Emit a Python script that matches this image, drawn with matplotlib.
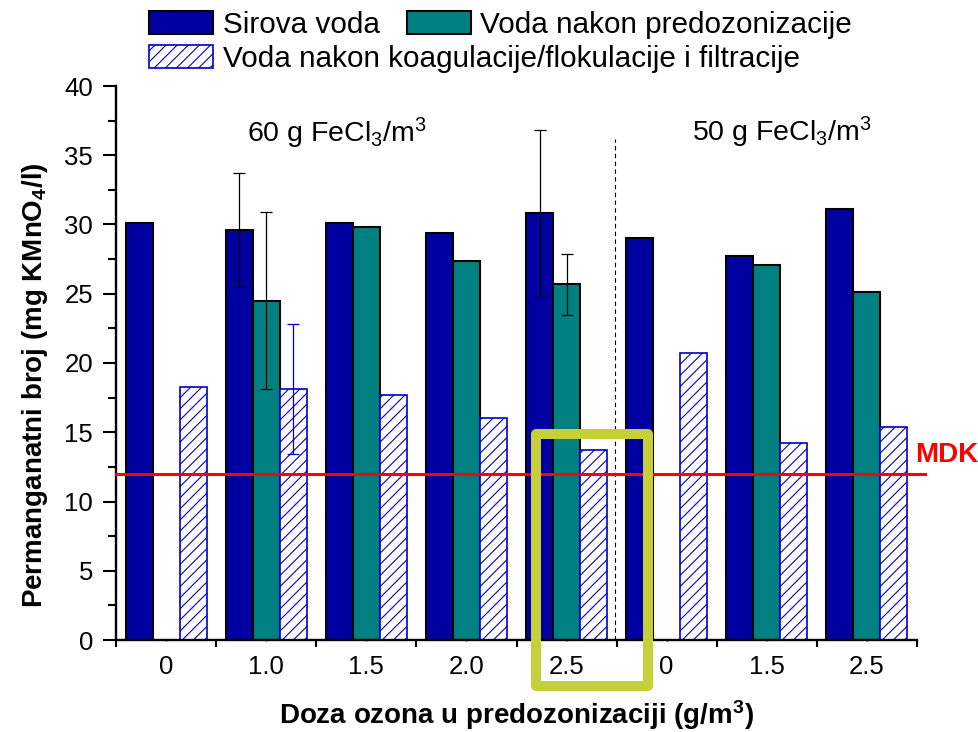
import numpy as np
import matplotlib.pyplot as plt
from matplotlib.patches import Patch, Rectangle

plt.rcParams['font.family'] = ['Liberation Sans', 'DejaVu Sans']
plt.rcParams['mathtext.default'] = 'regular'
plt.rcParams['hatch.linewidth'] = 0.8

# podaci (permanganatni broj, mg KMnO4/l)
doze = ['0', '1.0', '1.5', '2.0', '2.5', '0', '1.5', '2.5']
sirova = np.array([30.1, 29.6, 30.1, 29.4, 30.8, 29.0, 27.7, 31.1])
predoz = np.array([np.nan, 24.5, 29.8, 27.4, 25.7, np.nan, 27.1, 25.1])
filtr = np.array([18.3, 18.1, 17.7, 16.0, 13.7, 20.7, 14.2, 15.4])
sirova_err = np.array([0, 4.1, 0, 0, 6.0, 0, 0, 0])
predoz_err = np.array([0, 6.4, 0, 0, 2.2, 0, 0, 0])
filtr_err = np.array([0, 4.7, 0, 0, 0, 0, 0, 0])
mdk = 12

c_blue = '#0000A0'
c_teal = '#008080'
c_hatch = '#0000C8'

fig = plt.figure(figsize=(9.79, 7.32), dpi=100)
ax = fig.add_axes([116/979, 1 - 640/732, 801/979, 554/732])

x = np.arange(len(doze))
w = 0.27

ax.bar(x - w, sirova, w, color=c_blue, edgecolor='black', lw=1.5, zorder=2)
m = ~np.isnan(predoz)
ax.bar(x[m], predoz[m], w, color=c_teal, edgecolor='black', lw=1.5, zorder=2)
ax.bar(x + w, filtr, w, facecolor='white', edgecolor=c_hatch, hatch='///', lw=1.2, zorder=2)

# error bars only where they exist
for xs, ys, es, col in [(x - w, sirova, sirova_err, 'black'),
                        (x, predoz, predoz_err, 'black'),
                        (x + w, filtr, filtr_err, c_hatch)]:
    e = es > 0
    ax.errorbar(xs[e], ys[e], yerr=es[e], fmt='none', ecolor=col,
                elinewidth=0.9, capsize=4.3, capthick=0.9, zorder=3)

# MDK
ax.plot([-0.5, 7.58], [mdk, mdk], color='red', lw=2.2, zorder=4, clip_on=False)
ax.text(7.48, 13.36, 'MDK', color='red', fontsize=20, fontweight='bold',
        ha='left', va='center', clip_on=False)

# separator between the two coagulant doses
ax.plot([4.485, 4.485], [0, 36.2], color='black', lw=0.8, ls=(0, (4, 3)), zorder=1)

ax.text(0.809, 35.9, r'60 g FeCl$_3$/m$^3$', fontsize=20.5, ha='left', va='baseline')
ax.text(5.254, 36.0, r'50 g FeCl$_3$/m$^3$', fontsize=20.5, ha='left', va='baseline')

# highlight box
ax.add_patch(Rectangle((3.693, -3.3), 4.817 - 3.693, 14.85 + 3.3, fill=False,
                       edgecolor='#C4CF3A', lw=7.2, joinstyle='round',
                       clip_on=False, zorder=6))

ax.set_xlim(-0.5, 7.5)
ax.set_ylim(0, 40)
ax.set_yticks(np.arange(0, 41, 5))
ax.set_yticks(np.arange(0, 40, 2.5), minor=True)
ax.set_xticks(np.arange(-0.5, 8, 1))
ax.set_xticklabels([])
ax.set_xticks(x, minor=True)
ax.set_xticklabels(doze, minor=True)

for s in ['top', 'right']:
    ax.spines[s].set_visible(False)
for s in ['left', 'bottom']:
    ax.spines[s].set_linewidth(1.7)

ax.tick_params(axis='y', which='major', length=9.4, width=1.5, labelsize=18.5, pad=7)
ax.tick_params(axis='y', which='minor', length=5.8, width=1.5)
ax.tick_params(axis='x', which='major', length=5, width=1.5)
ax.tick_params(axis='x', which='minor', length=2, width=1, labelsize=18.5, pad=10, direction='inout')

ax.set_xlabel('Doza ozona u predozonizaciji (g/m$^3$)', fontsize=20, fontweight='bold')
ax.xaxis.set_label_coords(0.5, -0.105)
ax.set_ylabel('Permanganatni broj (mg KMnO$_4$/l)', fontsize=20, fontweight='bold')
ax.yaxis.set_label_coords(-0.082, 0.46)

# legend
h1 = Patch(facecolor=c_blue, edgecolor='black', lw=1.5, label='Sirova voda')
h2 = Patch(facecolor=c_teal, edgecolor='black', lw=1.5, label='Voda nakon predozonizacije')
h3 = Patch(facecolor='white', edgecolor=c_hatch, hatch='///', lw=1.2,
           label='Voda nakon koagulacije/flokulacije i filtracije')
opts = dict(frameon=False, fontsize=21.4, handlelength=2.15, handleheight=0.78,
            handletextpad=0.33, borderpad=0, borderaxespad=0, loc='center left')
fig.legend(handles=[h1, h2], ncol=2, columnspacing=0.9,
           bbox_to_anchor=(149.3/979, 1 - 24.7/732), **opts)
fig.legend(handles=[h3], bbox_to_anchor=(149.3/979, 1 - 58.7/732), **opts)

fig.savefig('out.png', dpi=100)
